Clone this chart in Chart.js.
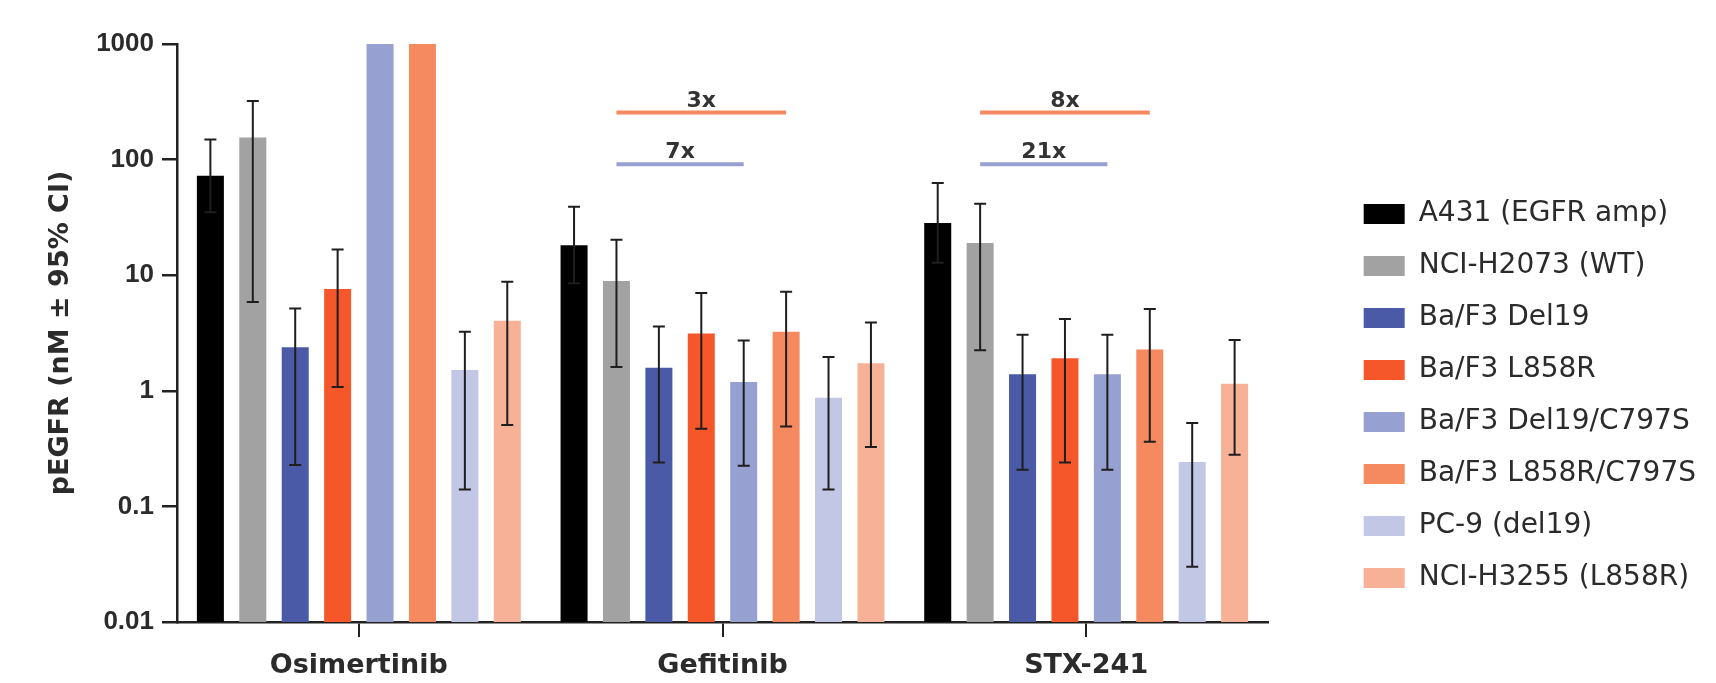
<!DOCTYPE html>
<html>
<head>
<meta charset="utf-8">
<script src="https://cdn.jsdelivr.net/npm/chart.js@4.4.1/dist/chart.umd.min.js"></script>
<style>
  html, body { margin: 0; padding: 0; background: #fff; }
  #wrap { width: 1716px; height: 683px; position: relative; }
</style>
</head>
<body>
<div id="wrap"><canvas id="pegfrChart"></canvas></div>
<script>
const drugs = ['Osimertinib', 'Gefitinib', 'STX-241'];
const cellLines = ['A431 (EGFR amp)', 'NCI-H2073 (WT)', 'Ba/F3 Del19', 'Ba/F3 L858R',
  'Ba/F3 Del19/C797S', 'Ba/F3 L858R/C797S', 'PC-9 (del19)', 'NCI-H3255 (L858R)'];
const barColors = ['#000000', '#a2a2a2', '#4a5aa6', '#f6572a', '#97a1d1', '#f58a60', '#c1c7e4', '#f7b196'];

// pEGFR IC50 (nM), one row per cell line: Osimertinib, Gefitinib, STX-241
const ic50 = [
  [72.6, 18.2, 28.3],
  [155, 8.9, 19],
  [2.38, 1.58, 1.39],
  [7.6, 3.13, 1.91],
  [1000, 1.19, 1.39],
  [1000, 3.25, 2.28],
  [1.51, 0.87, 0.242],
  [4.03, 1.73, 1.15]
];
// 95% CI limits, same layout (null = no bar drawn)
const ciLow = [
  [35, 8.5, 12.8],
  [5.85, 1.61, 2.24],
  [0.228, 0.24, 0.207],
  [1.08, 0.47, 0.24],
  [null, 0.225, 0.207],
  [null, 0.49, 0.363],
  [0.14, 0.14, 0.03],
  [0.505, 0.327, 0.28]
];
const ciHigh = [
  [149, 39, 62.7],
  [322, 20.3, 41.4],
  [5.14, 3.6, 3.05],
  [16.7, 7.0, 4.17],
  [null, 2.73, 3.05],
  [null, 7.2, 5.09],
  [3.25, 1.96, 0.527],
  [8.78, 3.89, 2.75]
];
const yTicks = [0.01, 0.1, 1, 10, 100, 1000];

// fold-change brackets: drug index, from/to cell line, label, height (nM)
const foldDrug = [1, 1, 2, 2];
const foldFrom = [1, 1, 1, 1];
const foldTo = [5, 4, 5, 4];
const foldText = ['3x', '7x', '8x', '21x'];
const foldLevel = [255, 91, 255, 91];

const inkColor = '#2b2b2b';
Chart.defaults.font.family = 'DejaVu Sans';

const ciPlugin = {
  id: 'ciBars',
  afterDatasetsDraw(chart) {
    const ctx = chart.ctx;
    const y = chart.scales.y;
    ctx.save();
    ctx.strokeStyle = '#1e1e1e';
    ctx.lineWidth = 2;
    chart.data.datasets.forEach((ds, i) => {
      chart.getDatasetMeta(i).data.forEach((bar, j) => {
        const lo = ciLow[i][j], hi = ciHigh[i][j];
        if (lo == null || hi == null) return;
        const yLo = y.getPixelForValue(lo), yHi = y.getPixelForValue(hi);
        const cap = 6;
        ctx.beginPath();
        ctx.moveTo(bar.x, yLo); ctx.lineTo(bar.x, yHi);
        ctx.moveTo(bar.x - cap, yHi); ctx.lineTo(bar.x + cap, yHi);
        ctx.moveTo(bar.x - cap, yLo); ctx.lineTo(bar.x + cap, yLo);
        ctx.stroke();
      });
    });
    ctx.restore();
  }
};

const foldPlugin = {
  id: 'foldBrackets',
  afterDatasetsDraw(chart) {
    const ctx = chart.ctx;
    const y = chart.scales.y;
    ctx.save();
    ctx.font = 'bold 22px "DejaVu Sans"';
    ctx.textAlign = 'center';
    ctx.textBaseline = 'alphabetic';
    for (let k = 0; k < foldText.length; k++) {
      const x1 = chart.getDatasetMeta(foldFrom[k]).data[foldDrug[k]].x;
      const x2 = chart.getDatasetMeta(foldTo[k]).data[foldDrug[k]].x;
      const yy = y.getPixelForValue(foldLevel[k]);
      ctx.strokeStyle = barColors[foldTo[k]];
      ctx.lineWidth = 4;
      ctx.beginPath();
      ctx.moveTo(x1, yy);
      ctx.lineTo(x2, yy);
      ctx.stroke();
      ctx.fillStyle = '#333';
      ctx.fillText(foldText[k], (x1 + x2) / 2, yy - 6);
    }
    ctx.restore();
  }
};

const datasets = cellLines.map((name, i) => ({
  label: name,
  data: ic50[i],
  backgroundColor: barColors[i],
  borderWidth: 0,
  barPercentage: 0.637,
  categoryPercentage: 0.933
}));

new Chart(document.getElementById('pegfrChart'), {
  type: 'bar',
  data: { labels: drugs, datasets: datasets },
  plugins: [ciPlugin, foldPlugin],
  options: {
    responsive: true,
    maintainAspectRatio: false,
    animation: false,
    layout: { padding: { top: 44, right: 10, bottom: 0, left: 0 } },
    plugins: {
      tooltip: { enabled: false },
      legend: {
        position: 'right',
        align: 'center',
        title: { display: true, text: ' ', font: { size: 12 }, padding: 25.3 },
        labels: {
          boxWidth: 41,
          boxHeight: 20,
          padding: 24,
          color: inkColor,
          font: { family: 'DejaVu Sans', size: 28 }
        }
      }
    },
    scales: {
      x: {
        grid: { drawOnChartArea: false, offset: false, tickLength: 15, color: '#222', lineWidth: 2 },
        border: { color: '#222', width: 2.5 },
        ticks: { color: inkColor, padding: 13, font: { family: 'DejaVu Sans', weight: 'bold', size: 27 } },
        afterFit: s => { s.height = 61; }
      },
      y: {
        type: 'logarithmic',
        min: 0.01,
        max: 1000,
        afterBuildTicks: s => { s.ticks = yTicks.map(v => ({ value: v })); },
        afterFit: s => { s.width = 177; },
        grid: { drawOnChartArea: false, tickLength: 15, color: '#222', lineWidth: 2.5 },
        border: { color: '#222', width: 2.5 },
        ticks: {
          color: inkColor,
          padding: 8,
          font: { family: 'Liberation Sans', weight: 'bold', size: 26 },
          callback: v => String(v)
        },
        title: {
          display: true,
          text: 'pEGFR (nM ± 95% CI)',
          color: inkColor,
          padding: { top: 45, bottom: 0 },
          font: { family: 'DejaVu Sans', weight: 'bold', size: 27 }
        }
      },
      // empty spacer between plot and legend
      gap: {
        type: 'linear',
        position: 'right',
        display: false,
        afterFit: s => {
          const lg = s.chart.legend;
          s.width = Math.max(0, s.chart.width - 10 - lg.width - 1268);
        }
      }
    }
  }
});
</script>
</body>
</html>
